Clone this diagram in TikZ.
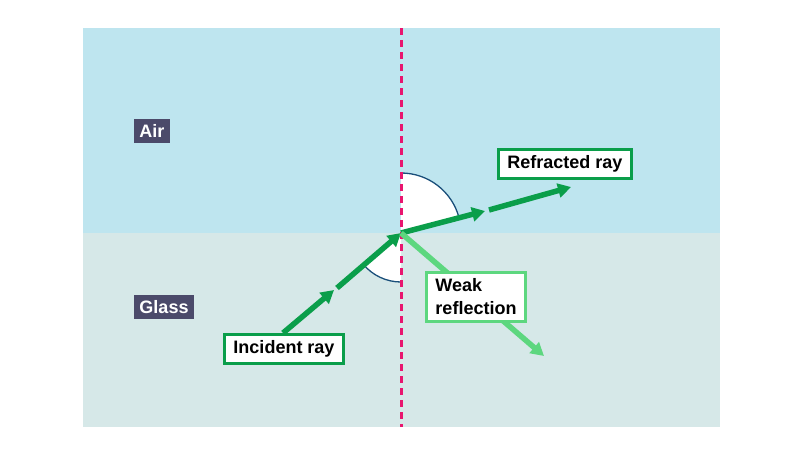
\documentclass[tikz,border=0pt]{standalone}
\usepackage{fontspec}
\setmainfont{Liberation Sans}
\usetikzlibrary{arrows.meta}
\definecolor{air}{HTML}{BEE5EF}
\definecolor{glass}{HTML}{D6E8E8}
\definecolor{dg}{HTML}{0A9E4A}
\definecolor{lg}{HTML}{5DD77F}
\definecolor{tagc}{HTML}{4B4A6A}
\definecolor{norm}{HTML}{E8166F}
\definecolor{arcc}{HTML}{1A4F7A}
\begin{document}
\begin{tikzpicture}[x=1pt,y=-1pt,
 ray/.style={line width=5.5pt,-{Triangle[length=13pt,width=14pt]}},
 tag/.style={fill=tagc,text=white,font=\bfseries\fontsize{18}{21}\selectfont,inner sep=5pt},
 lab/.style={fill=white,draw=#1,line width=2.8pt,font=\bfseries\fontsize{18}{23}\selectfont,inner xsep=9pt,inner ysep=6pt,align=left}]
\useasboundingbox (0,0) rectangle (800,450);
\fill[air] (83,28) rectangle (720,233);
\fill[glass] (83,233) rectangle (720,427);
\coordinate (O) at (401,233);
\fill[white] (O) -- (401,173) arc[start angle=-90,end angle=-15,radius=60] -- cycle;
\draw[arcc,line width=1.3pt] (401,173) arc[start angle=-90,end angle=-15,radius=60];
\fill[white] (O) -- (401,282) arc[start angle=90,end angle=140,radius=49] -- cycle;
\draw[arcc,line width=1.3pt] (401,282) arc[start angle=90,end angle=140,radius=49];
\coordinate (nt) at (401,28); \coordinate (nb) at (401,427);
\draw[norm,line width=3pt,dash pattern=on 7pt off 5pt] (nt) -- (nb);
\coordinate (i0) at (283,333); \coordinate (i1) at (334,290); \coordinate (i2) at (337,288);
\draw[dg,ray] (i0) -- (i1);
\draw[dg,ray] (i2) -- (O);
\coordinate (r1) at (485,211); \coordinate (r2) at (489,210); \coordinate (r3) at (571,187);
\draw[dg,ray] (O) -- (r1);
\draw[dg,ray] (r2) -- (r3);
\coordinate (w1) at (544,356);
\draw[lg,ray] (O) -- (w1);
\node[tag] (air) at (152,131) {Air};
\node[tag] (gl) at (164,307) {Glass};
\node[lab=dg] (inc) at (284,349) {Incident ray};
\node[lab=dg] (ref) at (565,164) {Refracted ray};
\node[lab=lg] (weak) at (476,297) {Weak\\reflection};
\end{tikzpicture}
\end{document}
